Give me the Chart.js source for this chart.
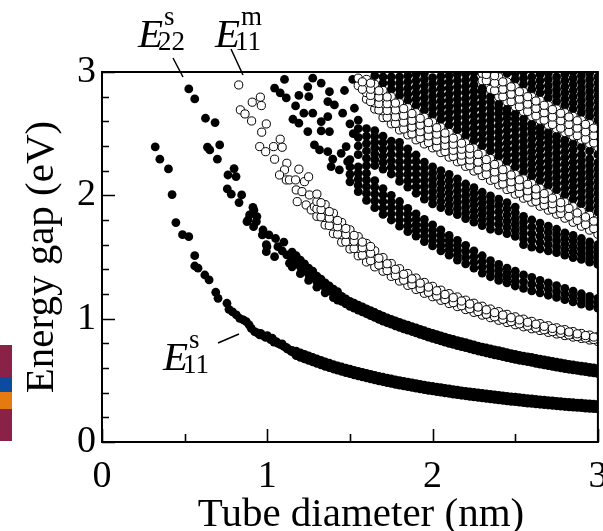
<!DOCTYPE html>
<html><head><meta charset="utf-8">
<script src="https://cdn.jsdelivr.net/npm/chart.js@4.4.1/dist/chart.umd.min.js"></script>
<style>
html,body{margin:0;padding:0;background:#fff;}
#wrap{position:relative;width:603px;height:531px;}
#strip{position:absolute;left:0;top:345px;width:12px;height:96px;}
#strip div{width:12px;}
</style></head><body>
<div id="wrap"><canvas id="c" width="603" height="531"></canvas>
<div id="strip"><div style="height:32px;background:#8a2247"></div><div style="height:15px;background:#0b4ca0"></div><div style="height:17px;background:#e47b10"></div><div style="height:32px;background:#8a2247"></div></div></div>
<script>
// ---- axis ticks ----
const xMajorTicks = [0, 1, 2, 3];
const yMajorTicks = [0, 1, 2, 3];
const xMinorTicks = [0.5, 1.5, 2.5];
const yMinorTicks = [0.2,0.4,0.6,0.8,1.2,1.4,1.6,1.8,2.2,2.4,2.6,2.8];

// ---- data: [diameter nm, energy eV] or [diameter, [energies...]] ----
const e11sSparse = [[0.322,2.393],[0.350,2.293],[0.402,2.214],[0.424,2.006],[0.447,1.779],[0.487,1.681],[0.525,1.665],[0.561,1.511],[0.561,1.427],[0.581,1.409],[0.622,1.354],[0.648,1.314],[0.688,1.214],[0.702,1.165],[0.756,1.125],[0.768,1.076],[0.79,1.055],[0.813,1.030],[0.833,1.003],[0.855,0.99],[0.873,0.976],[0.89,0.95],[0.903,0.922],[0.923,0.895],[0.94,0.885],[0.954,0.868],[0.96,0.88],[0.975,0.862],[0.990,0.849],[1.00,0.862],[1.02,0.83],[1.03,0.842],[1.04,0.81],[1.054,0.813],[1.065,0.80],[1.08,0.79],[1.09,0.795],[1.10,0.775],[1.115,0.768],[1.12,0.755],[1.13,0.75],[1.145,0.735],[1.15,0.742],[1.16,0.725]];
const e11sBand = [[1.175,[.70,.736]],[1.2,[.687,.723]],[1.225,[.674,.71]],[1.25,[.662,.698]],[1.275,[.649,.685]],[1.3,[.637,.673]],[1.325,[.625,.661]],[1.35,[.614,.65]],[1.375,[.603,.639]],[1.4,[.592,.628]],[1.425,[.582,.618]],[1.45,[.572,.608]],[1.475,[.563,.599]],[1.5,[.554,.59]],[1.525,[.545,.581]],[1.55,[.537,.573]],[1.575,[.528,.564]],[1.6,[.52,.556]],[1.625,[.512,.548]],[1.65,[.504,.54]],[1.675,[.496,.532]],[1.7,[.489,.525]],[1.725,[.482,.518]],[1.75,[.475,.511]],[1.775,[.468,.504]],[1.8,[.462,.498]],[1.825,[.455,.491]],[1.85,[.449,.485]],[1.875,[.443,.479]],[1.9,[.437,.473]],[1.925,[.431,.467]],[1.95,[.425,.461]],[1.975,[.419,.455]],[2.0,[.414,.45]],[2.025,[.409,.445]],[2.05,[.404,.44]],[2.075,[.399,.435]],[2.1,[.394,.43]],[2.125,[.389,.425]],[2.15,[.384,.42]],[2.175,[.379,.415]],[2.2,[.375,.411]],[2.225,[.37,.406]],[2.25,[.366,.402]],[2.275,[.362,.398]],[2.3,[.358,.394]],[2.325,[.354,.39]],[2.35,[.35,.386]],[2.375,[.346,.382]],[2.4,[.342,.378]],[2.425,[.338,.374]],[2.45,[.334,.37]],[2.475,[.33,.366]],[2.5,[.327,.363]],[2.525,[.323,.359]],[2.55,[.32,.356]],[2.575,[.316,.352]],[2.6,[.313,.349]],[2.625,[.309,.345]],[2.65,[.306,.342]],[2.675,[.303,.339]],[2.7,[.30,.336]],[2.725,[.297,.333]],[2.75,[.294,.33]],[2.775,[.291,.327]],[2.8,[.288,.324]],[2.825,[.285,.321]],[2.85,[.283,.319]],[2.875,[.28,.316]],[2.9,[.278,.314]],[2.925,[.275,.311]],[2.95,[.273,.309]],[2.975,[.27,.306]],[3.0,[.268,.304]]];

const e22sSparse = [[0.525,2.863],[0.561,2.782],[0.626,2.625],[0.684,2.590],[0.638,2.390],[0.652,2.368],[0.712,2.409],[0.698,2.293],[0.762,2.165],[0.799,2.217],[0.811,2.152],[0.758,2.052],[0.782,2.009],[0.845,2.003],[0.829,1.941],[0.913,1.903],[0.919,1.88],[0.883,1.80],[0.893,1.841],[0.934,1.787],[0.937,1.828],[0.877,1.787],[0.917,1.746],[0.974,1.719],[0.970,1.679],[0.998,1.584],[0.994,1.60],[0.994,1.543],[1.01,1.68],[1.05,1.65],[1.044,1.503],[1.064,1.584],[1.09,1.55],[1.10,1.62],[1.118,1.517],[1.134,1.45],[1.155,1.49]];
const e22sBand = [[1.15,[1.42,1.48,1.54]],[1.175,[1.45,1.51]],[1.20,[1.365,1.42,1.475]],[1.225,[1.39,1.445]],[1.25,[1.31,1.36,1.41]],[1.275,[1.33,1.385]],[1.30,[1.255,1.30,1.345]],[1.325,[1.275,1.32]],[1.35,[1.21,1.25,1.29]],[1.375,[1.225,1.265]],[1.40,[1.17,1.205,1.24]],[1.425,[1.15,1.185,1.22]],
[1.45,[1.14,1.18]],[1.475,[1.12,1.16]],[1.5,[1.10,1.14]],[1.525,[1.085,1.125]],[1.55,[1.07,1.11]],[1.575,[1.055,1.095]],[1.6,[1.04,1.08]],[1.625,[1.025,1.065]],[1.65,[1.01,1.05]],[1.675,[.995,1.035]],[1.7,[.98,1.02]],[1.725,[.967,1.007]],[1.75,[.955,.995]],[1.775,[.942,.982]],[1.8,[.93,.97]],[1.825,[.918,.958]],[1.85,[.907,.947]],[1.875,[.896,.936]],[1.9,[.885,.925]],[1.925,[.873,.913]],[1.95,[.862,.902]],[1.975,[.851,.891]],[2.0,[.84,.88]],[2.025,[.83,.87]],[2.05,[.82,.86]],[2.075,[.81,.85]],[2.1,[.80,.84]],[2.125,[.791,.831]],[2.15,[.782,.822]],[2.175,[.773,.813]],[2.2,[.765,.805]],[2.225,[.756,.796]],[2.25,[.747,.787]],[2.275,[.738,.778]],[2.3,[.73,.77]],[2.325,[.722,.762]],[2.35,[.715,.755]],[2.375,[.707,.747]],[2.4,[.70,.74]],[2.425,[.692,.732]],[2.45,[.685,.725]],[2.475,[.677,.717]],[2.5,[.67,.71]],[2.525,[.663,.703]],[2.55,[.657,.697]],[2.575,[.651,.691]],[2.6,[.645,.685]],[2.625,[.638,.678]],[2.65,[.632,.672]],[2.675,[.626,.666]],[2.7,[.62,.66]],[2.725,[.613,.653]],[2.75,[.607,.647]],[2.775,[.601,.641]],[2.8,[.595,.635]],[2.825,[.59,.63]],[2.85,[.585,.625]],[2.875,[.58,.62]],[2.9,[.575,.615]],[2.925,[.57,.61]],[2.95,[.565,.605]],[2.975,[.56,.60]],[3.0,[.555,.595]]];

const e11mSparse = [[0.827,2.895],[0.909,2.755],[0.958,2.796],[0.964,2.728],[0.837,2.693],[0.865,2.660],[0.905,2.603],[0.994,2.579],[0.966,2.512],[0.954,2.395],[0.990,2.354],[1.038,2.395],[1.078,2.455],[1.09,2.39],[1.044,2.293],[1.118,2.26],[1.104,2.206],[1.074,2.165],[1.115,2.125],[1.134,2.125],[1.171,2.125],[1.175,2.044],[1.181,1.949],[1.191,2.212],[1.225,2.111],[1.21,2.03],[1.255,2.003],[1.235,1.922],[1.266,1.882],[1.285,1.908],[1.25,2.15]];
const e11mBand = [[1.30,[1.83,1.89,1.95,2.01]],[1.35,[1.76,1.82,1.88,1.925]],[1.40,[1.69,1.75,1.81,1.855]],[1.45,[1.62,1.68,1.74,1.78]],[1.50,[1.565,1.625,1.685,1.72]],[1.55,[1.51,1.57,1.63,1.665]],[1.60,[1.46,1.52,1.58,1.61]],[1.65,[1.42,1.48,1.55]],[1.70,[1.385,1.44,1.495]],[1.75,[1.343,1.395,1.447]],[1.80,[1.305,1.355,1.405]],[1.85,[1.27,1.318,1.366]],[1.90,[1.237,1.283,1.329]],[1.95,[1.206,1.25,1.294]],[2.00,[1.178,1.22,1.262]],[2.05,[1.149,1.19,1.231]],[2.10,[1.123,1.163,1.203]],[2.15,[1.098,1.137,1.176]],[2.20,[1.074,1.112,1.15]],[2.25,[1.051,1.088,1.125]],[2.30,[1.029,1.065,1.101]],[2.35,[1.008,1.043,1.078]],[2.40,[.987,1.022,1.057]],[2.45,[.969,1.002,1.035]],[2.50,[.951,.983,1.015]],[2.55,[.934,.965,.996]],[2.60,[.918,.948,.978]],[2.65,[.904,.932,.96]],[2.70,[.889,.916,.943]],[2.75,[.876,.901,.926]],[2.80,[.863,.887,.911]],[2.85,[.851,.873,.895]],[2.90,[.84,.86,.88]],[2.95,[.827,.847,.867]],[3.00,[.815,.835,.855]]];
const e11mBandMid = [[1.325,[1.825,1.885,1.94]],[1.375,[1.755,1.815,1.868]],[1.425,[1.685,1.745,1.796]],[1.475,[1.623,1.683,1.731]],[1.525,[1.568,1.628,1.675]],[1.575,[1.515,1.575,1.621]],[1.625,[1.47,1.53,1.585]],[1.675,[1.435,1.49]],[1.725,[1.39,1.445]],[1.775,[1.35,1.40]],[1.825,[1.312,1.36]],[1.875,[1.277,1.323]],[1.925,[1.244,1.288]],[1.975,[1.214,1.256]],[2.025,[1.184,1.226]],[2.075,[1.156,1.196]],[2.125,[1.13,1.17]],[2.175,[1.105,1.143]],[2.225,[1.081,1.119]],[2.275,[1.058,1.094]],[2.325,[1.036,1.072]],[2.375,[1.015,1.049]],[2.425,[.995,1.029]],[2.475,[.976,1.008]],[2.525,[.958,.99]],[2.575,[.941,.971]],[2.625,[.925,.955]],[2.675,[.91,.938]],[2.725,[.895,.921]],[2.775,[.881,.907]],[2.825,[.868,.892]],[2.875,[.855,.877]],[2.925,[.843,.863]],[2.975,[.831,.851]]];

const e33sSparse = [[1.044,2.87],[1.078,2.83],[1.104,2.94],[1.115,2.79],[1.171,2.725],[1.155,2.617],[1.191,2.585],[1.191,2.81],[1.221,2.666],[1.245,2.517],[1.251,2.80],[1.275,2.666],[1.285,2.409],[1.316,2.368],[1.326,2.598],[1.326,2.522],[1.366,2.638],[1.376,2.517],[1.366,2.354],[1.396,2.293],[1.386,2.233],[1.436,2.206],[1.447,2.341],[1.477,2.395],[1.486,2.273]];
const e33sBand = [[1.50,[2.11,2.17,2.23,2.29]],[1.55,[2.03,2.08,2.13,2.18,2.23]],[1.60,[1.96,2.015,2.07,2.125,2.18]],[1.65,[1.90,1.955,2.01,2.065,2.12]],[1.70,[1.845,1.897,1.95,2.003,2.055]],[1.75,[1.80,1.85,1.90,1.95,2.00]],[1.80,[1.75,1.80,1.85,1.90,1.95]],[1.85,[1.705,1.752,1.80,1.848,1.895]],[1.90,[1.67,1.715,1.76,1.805,1.85]],[1.95,[1.625,1.67,1.715,1.76,1.805]],[2.00,[1.59,1.633,1.675,1.718,1.76]],[2.05,[1.55,1.593,1.635,1.678,1.72]],[2.10,[1.515,1.555,1.595,1.635,1.675]],[2.15,[1.475,1.515,1.555,1.595,1.635]],[2.20,[1.445,1.495,1.545,1.595]],[2.25,[1.41,1.457,1.503,1.55]],[2.30,[1.37,1.417,1.463,1.51]],[2.35,[1.34,1.383,1.427,1.47]],[2.40,[1.31,1.353,1.397,1.44]],[2.45,[1.29,1.33,1.37,1.41]],[2.50,[1.265,1.305,1.345,1.385]],[2.55,[1.245,1.30,1.355]],[2.60,[1.225,1.28,1.335]],[2.65,[1.21,1.26,1.31]],[2.70,[1.19,1.24,1.29]],[2.75,[1.172,1.22,1.268]],[2.80,[1.154,1.20,1.246]],[2.85,[1.136,1.18,1.224]],[2.90,[1.118,1.16,1.202]],[2.95,[1.10,1.14,1.18]],[3.00,[1.085,1.125,1.165]]];

const e44sSparse = [[1.245,2.88],[1.275,2.95],[1.326,2.91],[1.376,2.84],[1.366,2.76],[1.406,2.733],[1.456,2.666],[1.467,2.85],[1.517,2.94],[1.527,2.706],[1.50,2.58],[1.52,2.50]];
const e44sBand = [[1.55,[2.33,2.40,2.47,2.54,2.61]],[1.60,[2.24,2.30,2.36,2.42,2.48,2.54]],[1.65,[2.242,2.289,2.336,2.384,2.431,2.478,2.525]],[1.70,[2.213,2.267,2.32,2.373,2.427,2.48]],[1.75,[2.173,2.227,2.28,2.333,2.387,2.44]],[1.80,[2.113,2.167,2.22,2.273,2.327,2.38,2.43]],[1.85,[2.067,2.118,2.17,2.222,2.273,2.325,2.377]],[1.90,[2.017,2.068,2.12,2.172,2.223,2.275,2.327]],[1.95,[1.97,2.02,2.07,2.12,2.17,2.22,2.27]],[2.00,[1.93,1.98,2.03,2.08,2.13,2.18,2.23]],[2.05,[1.90,1.95,2.00,2.05,2.10,2.15,2.20]],[2.10,[1.87,1.92,1.97,2.02,2.07,2.12,2.17]],[2.15,[1.843,1.892,1.94,1.988,2.037,2.085,2.133]],[2.20,[1.812,1.858,1.905,1.952,1.998,2.045,2.092]],[2.25,[1.782,1.828,1.875,1.922,1.968,2.015,2.062]],[2.30,[1.755,1.80,1.845,1.89,1.935,1.98,2.025]],[2.35,[1.725,1.77,1.815,1.86,1.905,1.95,1.995]],[2.40,[1.712,1.764,1.816,1.868,1.92,1.97]],[2.45,[1.69,1.74,1.79,1.84,1.89,1.94]],[2.50,[1.668,1.716,1.764,1.812,1.86,1.905]],[2.55,[1.60,1.646,1.692,1.738,1.784,1.83]],[2.60,[1.58,1.635,1.69,1.745,1.80]],[2.65,[1.565,1.617,1.67,1.723,1.775]],[2.70,[1.55,1.60,1.65,1.70,1.75]],[2.75,[1.535,1.582,1.63,1.678,1.725]],[2.80,[1.515,1.56,1.605,1.65,1.695]],[2.85,[1.495,1.54,1.585,1.63,1.675]],[2.90,[1.48,1.523,1.565,1.608,1.65]],[2.95,[1.458,1.499,1.54,1.581,1.622]],[3.00,[1.44,1.48,1.52,1.56,1.60]]];

const e22mBand = [[1.55,[2.89,2.95]],[1.60,[2.78,2.833,2.887,2.94]],[1.65,[2.70,2.75,2.80,2.85,2.90]],[1.70,[2.63,2.685,2.74,2.795,2.85]],[1.75,[2.58,2.635,2.69,2.745,2.80]],[1.80,[2.53,2.585,2.64,2.695,2.75]],[1.85,[2.49,2.545,2.60,2.655,2.71]],[1.90,[2.45,2.505,2.56,2.615,2.67]],[1.95,[2.417,2.471,2.525,2.579,2.633]],[2.00,[2.385,2.437,2.49,2.543,2.595]],[2.05,[2.347,2.398,2.45,2.502,2.553]],[2.10,[2.31,2.36,2.41,2.46,2.51]],[2.15,[2.272,2.321,2.37,2.419,2.468]],[2.20,[2.235,2.283,2.33,2.378,2.425]],[2.25,[2.197,2.259,2.321,2.383]],[2.30,[2.16,2.22,2.28,2.34]],[2.35,[2.122,2.181,2.239,2.298]],[2.40,[2.085,2.142,2.198,2.255]],[2.45,[2.047,2.102,2.158,2.213]],[2.50,[2.01,2.063,2.117,2.17]],[2.55,[1.977,2.029,2.081,2.133]],[2.60,[1.945,1.995,2.045,2.095]],[2.65,[1.912,1.961,2.009,2.058]],[2.70,[1.88,1.927,1.973,2.02]],[2.75,[1.847,1.892,1.938,1.983]],[2.80,[1.815,1.88,1.945]],[2.85,[1.782,1.845,1.908]],[2.90,[1.75,1.81,1.87]],[2.95,[1.718,1.778,1.838]],[3.00,[1.685,1.745,1.805]]];
const e22mBandMid = [[1.575,[2.86,2.92]],[1.625,[2.76,2.81,2.86,2.91]],[1.675,[2.692,2.744,2.796,2.848]],[1.725,[2.633,2.688,2.743,2.798]],[1.775,[2.583,2.638,2.693,2.748]],[1.825,[2.538,2.593,2.648,2.703]],[1.875,[2.498,2.553,2.608,2.663]],[1.925,[2.462,2.516,2.57,2.624]],[1.975,[2.428,2.482,2.536,2.59]],[2.025,[2.392,2.444,2.496,2.548]],[2.075,[2.355,2.405,2.455,2.505]],[2.125,[2.316,2.365,2.414,2.463]],[2.175,[2.278,2.326,2.374,2.422]],[2.225,[2.24,2.287,2.334,2.381]],[2.275,[2.207,2.27,2.333]],[2.325,[2.17,2.23,2.29]],[2.375,[2.13,2.19,2.25]],[2.425,[2.092,2.15,2.208]],[2.475,[2.055,2.11,2.165]],[2.525,[2.018,2.072,2.126]],[2.575,[1.985,2.037,2.089]],[2.625,[1.952,2.002,2.052]],[2.675,[1.92,1.967,2.014]],[2.725,[1.887,1.932,1.977]],[2.775,[1.853,1.897,1.941]],[2.825,[1.83,1.894]],[2.875,[1.797,1.857]],[2.925,[1.764,1.824]],[2.975,[1.731,1.791]]];

const e55sBand = [[1.65,[2.97]],[1.70,[2.91,2.96]],[1.75,[2.86,2.91,2.96]],[1.80,[2.81,2.86,2.91,2.96]],[1.85,[2.77,2.82,2.87,2.92,2.97]],[1.90,[2.73,2.78,2.83,2.88,2.93,2.98]],[1.95,[2.69,2.74,2.79,2.84,2.89,2.94,2.99]],[2.00,[2.655,2.705,2.755,2.805,2.855,2.905,2.955]],[2.05,[2.615,2.665,2.715,2.765,2.815,2.865,2.915,2.965]],[2.10,[2.57,2.62,2.67,2.72,2.77,2.82,2.87,2.92,2.97]],[2.15,[2.53,2.58,2.63,2.68,2.73,2.78,2.83,2.88,2.93,2.98]],[2.20,[2.485,2.535,2.585,2.635,2.685,2.735,2.785,2.835,2.885,2.935,2.985]],[2.25,[2.445,2.495,2.545,2.595,2.645,2.695,2.745,2.795,2.845,2.895,2.945,2.995]],[2.30,[2.40,2.45,2.50,2.55,2.60,2.65,2.70,2.75,2.80,2.84,2.87]],[2.35,[2.36,2.41,2.46,2.51,2.56,2.61,2.66,2.71,2.76,2.80]],[2.40,[2.315,2.365,2.415,2.465,2.515,2.565,2.615,2.665,2.705,2.74]],[2.45,[2.275,2.325,2.375,2.425,2.475,2.525,2.575,2.625,2.665,2.70]],[2.50,[2.23,2.28,2.33,2.38,2.43,2.48,2.53,2.58,2.62,2.66]],[2.55,[2.19,2.24,2.29,2.34,2.39,2.44,2.49,2.54,2.58,2.62]],[2.60,[2.155,2.205,2.255,2.305,2.355,2.405,2.455,2.505,2.545,2.58]],[2.65,[2.12,2.17,2.22,2.27,2.32,2.37,2.42,2.47,2.51,2.55]],[2.70,[2.08,2.13,2.18,2.23,2.28,2.33,2.38,2.43,2.47,2.51]],[2.75,[2.045,2.095,2.145,2.195,2.245,2.295,2.345,2.395,2.44,2.48]],[2.80,[2.005,2.055,2.105,2.155,2.205,2.255,2.305,2.355,2.405,2.45]],[2.85,[1.97,2.02,2.07,2.12,2.17,2.22,2.27,2.32,2.37,2.42]],[2.90,[1.93,1.98,2.03,2.08,2.13,2.18,2.23,2.28,2.33,2.39]],[2.95,[1.895,1.945,1.995,2.045,2.095,2.145,2.195,2.245,2.295,2.36]],[3.00,[1.865,1.915,1.965,2.015,2.065,2.115,2.165,2.215,2.265,2.33]]];

const e33mBand = [[2.30,[2.93,2.99]],[2.35,[2.86,2.93,3.0]],[2.40,[2.80,2.853,2.907,2.96]],[2.45,[2.76,2.813,2.867,2.92]],[2.50,[2.72,2.773,2.827,2.88]],[2.55,[2.68,2.733,2.787,2.84]],[2.60,[2.64,2.693,2.747,2.80]],[2.65,[2.61,2.663,2.717,2.77]],[2.70,[2.57,2.623,2.677,2.73]],[2.75,[2.54,2.593,2.647,2.70]],[2.80,[2.51,2.563,2.617,2.67]],[2.85,[2.48,2.533,2.587,2.64]],[2.90,[2.45,2.503,2.557,2.61]],[2.95,[2.42,2.473,2.527,2.58]],[3.00,[2.39,2.443,2.497,2.55]]];
const e33mBandMid = [[2.325,[2.93,2.98]],[2.375,[2.85,2.91,2.97]],[2.425,[2.80,2.86,2.92]],[2.475,[2.76,2.82,2.88]],[2.525,[2.72,2.78,2.84]],[2.575,[2.68,2.74,2.80]],[2.625,[2.645,2.705,2.765]],[2.675,[2.61,2.67,2.73]],[2.725,[2.575,2.635,2.695]],[2.775,[2.545,2.605,2.665]],[2.825,[2.515,2.575,2.635]],[2.875,[2.485,2.545,2.605]],[2.925,[2.455,2.515,2.575]],[2.975,[2.425,2.485,2.545]]];

const e77sBand = [[2.45,[2.99]],[2.50,[2.94,2.99]],[2.55,[2.90,2.95,3.0]],[2.60,[2.86,2.91,2.96]],[2.65,[2.83,2.88,2.93,2.98]],[2.70,[2.79,2.84,2.89,2.94,2.99]],[2.75,[2.76,2.81,2.86,2.91,2.96]],[2.80,[2.73,2.78,2.83,2.88,2.93,2.98]],[2.85,[2.70,2.75,2.80,2.85,2.90,2.95,3.0]],[2.90,[2.67,2.72,2.77,2.82,2.87,2.92,2.97]],[2.95,[2.64,2.69,2.74,2.79,2.84,2.89,2.94,2.99]],[3.00,[2.61,2.66,2.71,2.76,2.81,2.86,2.91,2.96]]];

// ---- build library tables ----
function pts(...lists){const out=[];for(const l of lists){for(const [d,e] of l){if(Array.isArray(e)){for(const v of e)out.push({x:d,y:v});}else out.push({x:d,y:e});}}return out;}
const filledStyle={pointRadius:4.4,pointBackgroundColor:'#000',pointBorderColor:'#000',pointBorderWidth:0,showLine:false,order:1,clip:0};
const openStyle={pointRadius:4.1,pointBackgroundColor:'#fff',pointBorderColor:'#000',pointBorderWidth:1,showLine:false,order:0,clip:0};

const serif='"Liberation Serif","Times New Roman",serif';

const decor={id:'decor',afterDraw(chart){
  const {ctx,chartArea:a,scales:{x,y}}=chart;
  ctx.save();
  ctx.strokeStyle='#000';ctx.lineWidth=2;
  ctx.strokeRect(a.left,a.top,a.right-a.left,a.bottom-a.top);
  ctx.lineWidth=1.6;ctx.beginPath();
  for(const v of yMajorTicks){const p=Math.round(y.getPixelForValue(v))+0.5;ctx.moveTo(a.left,p);ctx.lineTo(a.left+13,p);}
  for(const v of yMinorTicks){const p=Math.round(y.getPixelForValue(v))+0.5;ctx.moveTo(a.left,p);ctx.lineTo(a.left+7,p);}
  for(const v of xMajorTicks){const p=Math.round(x.getPixelForValue(v))+0.5;ctx.moveTo(p,a.bottom);ctx.lineTo(p,a.bottom-13);}
  for(const v of xMinorTicks){const p=Math.round(x.getPixelForValue(v))+0.5;ctx.moveTo(p,a.bottom);ctx.lineTo(p,a.bottom-8);}
  ctx.stroke();
  // axis titles
  ctx.fillStyle='#000';
  ctx.font='41px '+serif;ctx.textAlign='center';ctx.textBaseline='alphabetic';
  ctx.fillText('Tube diameter (nm)',361,526);
  ctx.save();ctx.translate(53,257);ctx.rotate(-Math.PI/2);ctx.fillText('Energy gap (eV)',0,0);ctx.restore();
  // band labels
  function lab(xp,yb,sup,sub){
    ctx.textAlign='left';
    ctx.font='italic 41px '+serif;ctx.fillText('E',xp,yb);
    const w=ctx.measureText('E').width;
    ctx.font='27px '+serif;
    ctx.fillText(sup,xp+w+1,yb-22);
    ctx.fillText(sub,xp+w-5,yb+3);
  }
  lab(138,47,'s','22');
  lab(215,47,'m','11');
  lab(163,370,'s','11');
  ctx.lineWidth=1.5;ctx.beginPath();
  ctx.moveTo(173,58);ctx.lineTo(183,77);
  ctx.moveTo(231,49);ctx.lineTo(243,75);
  ctx.moveTo(218,343);ctx.lineTo(239,334);
  ctx.stroke();
  ctx.restore();
}};

function noPad(s){s.paddingLeft=0;s.paddingRight=0;s.paddingTop=0;s.paddingBottom=0;}

new Chart(document.getElementById('c'),{
  type:'scatter',
  data:{datasets:[
    Object.assign({label:'E11m',data:pts(e11mSparse,e11mBand,e11mBandMid)},openStyle),
    Object.assign({label:'E22m',data:pts(e22mBand,e22mBandMid)},openStyle),
    Object.assign({label:'E33m',data:pts(e33mBand,e33mBandMid)},openStyle),
    Object.assign({label:'E11s',data:pts(e11sSparse,e11sBand)},filledStyle),
    Object.assign({label:'E22s',data:pts(e22sSparse,e22sBand)},filledStyle),
    Object.assign({label:'E33s',data:pts(e33sSparse,e33sBand)},filledStyle),
    Object.assign({label:'E44s',data:pts(e44sSparse,e44sBand)},filledStyle),
    Object.assign({label:'E55s',data:pts(e55sBand)},filledStyle),
    Object.assign({label:'E77s',data:pts(e77sBand)},filledStyle)
  ]},
  options:{
    responsive:false,animation:false,events:[],
    layout:{padding:{left:0,top:72,right:5,bottom:0}},
    plugins:{legend:{display:false},tooltip:{enabled:false}},
    scales:{
      x:{type:'linear',min:0,max:3,afterFit(s){s.height=89;noPad(s);},
        afterBuildTicks(s){s.ticks=xMajorTicks.map(v=>({value:v}));},
        ticks:{font:{family:serif,size:38},color:'#000',padding:12,callback:v=>String(v)},
        grid:{display:false,drawTicks:false},border:{display:false}},
      y:{type:'linear',min:0,max:3,afterFit(s){s.width=102;noPad(s);},
        afterBuildTicks(s){s.ticks=yMajorTicks.map(v=>({value:v}));},
        ticks:{font:{family:serif,size:38},color:'#000',padding:6,callback:v=>String(v)},
        grid:{display:false,drawTicks:false},border:{display:false}}
    }
  },
  plugins:[decor]
});
</script>
</body></html>
